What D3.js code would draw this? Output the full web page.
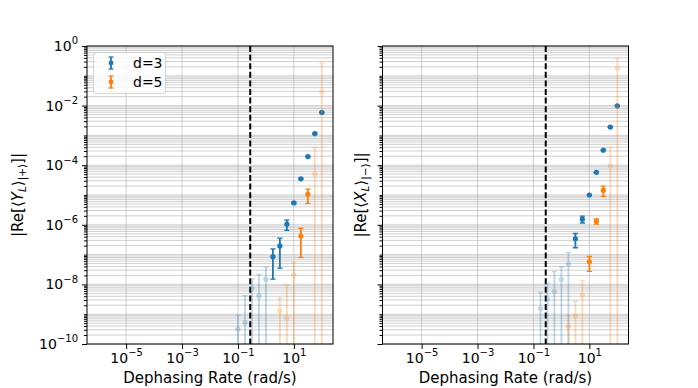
<!DOCTYPE html>
<html lang="en">
<head>
  <meta charset="UTF-8">
  <title>Dephasing</title>
  <script src="https://cdn.jsdelivr.net/npm/d3@7"></script>
  <style>
    body { margin: 0; background: #fff; }
    text { font-family: "DejaVu Sans", sans-serif; fill: #000; }
  </style>
</head>
<body>
  <div id="chart"></div>

  <script>
    // data (rate in rad/s, value, symmetric error)
    const rateD3Left = [0.1, 0.178, 0.316, 0.562, 1, 1.78, 3.16, 5.62, 10, 17.8, 31.6, 56.2, 100];
    const valD3Left = [3.2e-10, 5.2e-10, 7.4e-9, 4.2e-9, 1.5e-8, 8.5e-8, 1.95e-7, 1.05e-6, 5.4e-6, 3.5e-5, 1.95e-4, 1.15e-3, 5.9e-3];
    const errD3Left = [6.1e-10, 3.7e-9, 8e-9, 1.77e-8, 2.2e-8, 7e-8, 1.6e-7, 4e-7, 3e-7, 1e-6, 5e-6, 3e-5, 1.5e-4];

    const rateD5Left = [3.16, 5.62, 10, 17.8, 31.6, 56.2, 100];
    const valD5Left = [1.32e-9, 7.2e-10, 2.1e-8, 4.2e-7, 1.05e-5, 5.1e-5, 2.9e-2];
    const errD5Left = [2.2e-9, 8.8e-9, 3.3e-8, 3.4e-7, 5.3e-6, 3.4e-4, 0.246];

    const rateD3Right = [0.178, 0.316, 0.562, 1, 1.78, 3.16, 5.62, 10, 17.8, 31.6, 56.2, 100];
    const valD3Right = [1.55e-9, 3.16e-9, 5.75e-9, 1.48e-8, 4.8e-8, 3.4e-7, 1.55e-6, 1e-5, 5.75e-5, 3.2e-4, 1.9e-3, 9.8e-3];
    const errD3Right = [3.8e-9, 7.8e-9, 2.1e-8, 2.4e-8, 6.9e-8, 1.7e-7, 4e-7, 3e-7, 1.5e-6, 8e-6, 5e-5, 2.5e-4];

    const rateD5Right = [1.78, 3.16, 5.62, 10, 17.8, 31.6, 56.2, 100];
    const valD5Right = [3.9e-10, 8.9e-10, 4.3e-9, 5.75e-8, 1.32e-6, 1.45e-5, 9.5e-5, 0.178];
    const errD5Right = [5.2e-10, 1.8e-9, 9.2e-9, 3e-8, 2.6e-7, 5.5e-6, 2.9e-4, 0.21];

    const thresholdRate = 0.275;
    const xTicks = [1e-5, 1e-3, 1e-1, 1e1];
    const yTicks = [1e0, 1e-2, 1e-4, 1e-6, 1e-8, 1e-10];
    const seriesNames = ["d=3", "d=5"];
    const colors = ["#1f77b4", "#ff7f0e"];

    const width = 698, height = 388;
    const plotTop = 46, plotBottom = 344;

    const svg = d3.select("#chart").append("svg")
      .attr("width", width)
      .attr("height", height);

    const panels = [
      {x0: 87, x1: 333, label: ["|Re[⟨", "Y", "L", "⟩", "|+⟩", "]|"], labelX: 23, showYLabels: true, legend: true,
        series: [
          {rate: rateD3Left, val: valD3Left, err: errD3Left},
          {rate: rateD5Left, val: valD5Left, err: errD5Left}
        ]},
      {x0: 382.5, x1: 628.5, label: ["|Re[⟨", "X", "L", "⟩", "|−⟩", "]|"], labelX: 366, showYLabels: false, legend: false,
        series: [
          {rate: rateD3Right, val: valD3Right, err: errD3Right},
          {rate: rateD5Right, val: valD5Right, err: errD5Right}
        ]}
    ];

    // minor log positions for the horizontal grid
    const yMinor = [];
    for (let k = -10; k < 0; k++) for (let m = 1; m < 10; m++) yMinor.push(m * Math.pow(10, k));
    yMinor.push(1);

    function supLabel(sel, d) {
      const e = Math.round(Math.log10(d));
      sel.text(null);
      sel.append("tspan").text("10");
      sel.append("tspan").attr("dy", "-6.5px").style("font-size", "10px")
        .text(e < 0 ? "−" + (-e) : e);
    }

    panels.forEach((p, pi) => {
      const x = d3.scaleLog().domain([Math.pow(10, -6.4), Math.pow(10, 2.4)]).range([p.x0, p.x1]);
      const y = d3.scaleLog().domain([1e-10, 1]).range([plotBottom, plotTop]);

      const g = svg.append("g");
      const clipId = "clip" + pi;
      svg.append("clipPath").attr("id", clipId)
        .append("rect").attr("x", p.x0).attr("y", plotTop).attr("width", p.x1 - p.x0).attr("height", plotBottom - plotTop);

      // grid
      g.append("g").selectAll("line").data(yMinor).join("line")
        .attr("x1", p.x0).attr("x2", p.x1)
        .attr("y1", d => y(d)).attr("y2", d => y(d))
        .attr("stroke", "#b0b0b0").attr("stroke-opacity", 0.75).attr("stroke-width", 0.8);
      g.append("g").selectAll("line").data(xTicks).join("line")
        .attr("x1", d => x(d)).attr("x2", d => x(d))
        .attr("y1", plotTop).attr("y2", plotBottom)
        .attr("stroke", "#b0b0b0").attr("stroke-opacity", 0.75).attr("stroke-width", 0.8);

      // threshold line
      g.append("line")
        .attr("x1", x(thresholdRate)).attr("x2", x(thresholdRate))
        .attr("y1", plotTop).attr("y2", plotBottom)
        .attr("stroke", "#000").attr("stroke-width", 2).attr("stroke-dasharray", "6,2.6");

      // error bars
      const plot = g.append("g").attr("clip-path", `url(#${clipId})`);
      p.series.forEach((s, si) => {
        const pts = s.rate.map((r, i) => ({r, v: s.val[i], e: s.err[i]}));
        const sg = plot.append("g");
        const bars = sg.selectAll("g").data(pts).join("g")
          .attr("opacity", d => d.e > d.v ? 0.3 : 1)
          .attr("stroke", colors[si]).attr("fill", colors[si]);
        bars.append("line")
          .attr("x1", d => x(d.r)).attr("x2", d => x(d.r))
          .attr("y1", d => y(d.v + d.e))
          .attr("y2", d => d.v - d.e > 0 ? y(d.v - d.e) : plotBottom + 5)
          .attr("stroke-width", 1.8);
        bars.append("line")
          .attr("x1", d => x(d.r) - 2.6).attr("x2", d => x(d.r) + 2.6)
          .attr("y1", d => y(d.v + d.e)).attr("y2", d => y(d.v + d.e))
          .attr("stroke-width", 1.3);
        bars.filter(d => d.v - d.e > 0).append("line")
          .attr("x1", d => x(d.r) - 2.6).attr("x2", d => x(d.r) + 2.6)
          .attr("y1", d => y(d.v - d.e)).attr("y2", d => y(d.v - d.e))
          .attr("stroke-width", 1.3);
        bars.append("circle")
          .attr("cx", d => x(d.r)).attr("cy", d => y(d.v))
          .attr("r", 2.6).attr("stroke", "none");
      });

      // axes
      const xAxis = g.append("g").attr("transform", `translate(0,${plotBottom})`)
        .call(d3.axisBottom(x).tickValues(xTicks).tickSize(5).tickPadding(4));
      xAxis.selectAll(".tick text").style("font-size", "14px").each(function(d) { supLabel(d3.select(this), d); });
      xAxis.select(".domain").remove();

      const yMinorTicks = yMinor.filter(v => !yTicks.some(t => Math.abs(Math.log10(t) - Math.log10(v)) < 1e-6));
      g.append("g").attr("transform", `translate(${p.x0},0)`)
        .call(d3.axisLeft(y).tickValues(yMinorTicks).tickSize(3).tickFormat(""))
        .call(a => a.select(".domain").remove());
      const yAxis = g.append("g").attr("transform", `translate(${p.x0},0)`)
        .call(d3.axisLeft(y).tickValues(yTicks).tickSize(5).tickPadding(4));
      yAxis.select(".domain").remove();
      if (p.showYLabels) {
        yAxis.selectAll(".tick text").style("font-size", "14px").each(function(d) { supLabel(d3.select(this), d); });
      } else {
        yAxis.selectAll(".tick text").remove();
      }

      // frame
      g.append("rect").attr("x", p.x0).attr("y", plotTop)
        .attr("width", p.x1 - p.x0).attr("height", plotBottom - plotTop)
        .attr("fill", "none").attr("stroke", "#000").attr("stroke-width", 1);

      // labels
      svg.append("text")
        .attr("x", (p.x0 + p.x1) / 2).attr("y", 383)
        .attr("text-anchor", "middle").style("font-size", "15px")
        .text("Dephasing Rate (rad/s)");

      const yl = svg.append("text")
        .attr("transform", `translate(${p.labelX},${(plotTop + plotBottom) / 2}) rotate(-90)`)
        .attr("text-anchor", "middle").style("font-size", "15px");
      yl.append("tspan").text(p.label[0]);
      yl.append("tspan").style("font-style", "italic").text(p.label[1]);
      yl.append("tspan").attr("dy", "0.25em").style("font-size", "10.5px").style("font-style", "italic").text(p.label[2]);
      yl.append("tspan").attr("dy", "-0.17em").text(p.label[3]);
      yl.append("tspan").attr("dy", "0.25em").style("font-size", "10.5px").text(p.label[4]);
      yl.append("tspan").attr("dy", "-0.17em").text(p.label[5]);

      // legend
      if (p.legend) {
        const lg = svg.append("g").attr("transform", `translate(${p.x0 + 6.5},${plotTop + 6.5})`);
        lg.append("rect").attr("width", 72).attr("height", 41).attr("rx", 3)
          .attr("fill", "#fff").attr("fill-opacity", 0.8).attr("stroke", "#ccc").attr("stroke-width", 0.8);
        seriesNames.forEach((name, i) => {
          const cy = 10.5 + i * 19;
          const e = lg.append("g").attr("stroke", colors[i]).attr("fill", colors[i]);
          e.append("line").attr("x1", 17.5).attr("x2", 17.5).attr("y1", cy - 6).attr("y2", cy + 6).attr("stroke-width", 1.8);
          e.append("line").attr("x1", 15).attr("x2", 20).attr("y1", cy - 6).attr("y2", cy - 6).attr("stroke-width", 1.3);
          e.append("line").attr("x1", 15).attr("x2", 20).attr("y1", cy + 6).attr("y2", cy + 6).attr("stroke-width", 1.3);
          e.append("circle").attr("cx", 17.5).attr("cy", cy).attr("r", 2.4).attr("stroke", "none");
          lg.append("text").attr("x", 39.5).attr("y", cy + 5).style("font-size", "14px").text(name);
        });
      }
    });
  </script>
</body>
</html>
